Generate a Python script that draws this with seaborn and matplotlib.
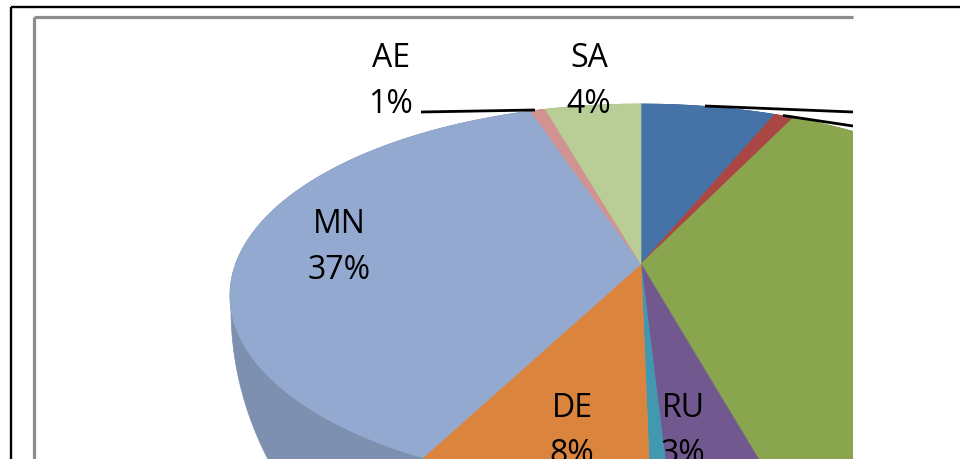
import numpy as np
import matplotlib
matplotlib.use("Agg")
import matplotlib.pyplot as plt
import seaborn as sns
from matplotlib.patches import Polygon, Rectangle
from matplotlib.colors import to_rgb

# ---------------- data (clockwise from 12 o'clock) ----------------
categories = ["(hidden 1)", "(hidden 2)", "(hidden 3)", "RU", "(hidden 4)", "DE", "MN", "AE", "SA"]
shares = [6.2, 0.9, 38.6, 3.4, 0.6, 7.9, 37.3, 0.7, 4.4]
colors = ["#4572A7", "#AA4643", "#89A54E", "#71588F", "#4198AF",
          "#DB843D", "#93A9CF", "#D19392", "#B9CD96"]
shown_labels = ["AE", "SA", "MN", "DE", "RU"]

# ---------------- layout / style ----------------
sns.set_theme(style="white")
plt.rcParams["font.family"] = ["Open Sans", "DejaVu Sans"]

W, H = 960, 460
fig = plt.figure(figsize=(W / 100, H / 100), dpi=100)
ax = fig.add_axes([0, 0, 1, 1])

wedges, _ = ax.pie(shares, colors=sns.color_palette(colors), startangle=90,
                   counterclock=False, radius=1.0, center=(0, 0), frame=True)

ax.set_aspect("auto")
ax.set_xlim(0, W)
ax.set_ylim(H, 0)
ax.axis("off")

# perspective projection of the unit pie onto the canvas (top face)
CX, CY, RX, RY, K = 641.0, 265.0, 405.4, 186.3, 0.1645
# bottom rim of the 3-D pie (seen through the side)
RXB, BY, RYF, RYB = 410.0, 310.0, 362.0, 150.0


def top_proj(X, Y):
    s = 1.0 / (1.0 + K * Y)
    return CX + RX * X * s, CY - RY * Y * s


def bottom_proj(X, Y):
    ry = np.where(Y < 0, RYF, RYB)
    return CX + RXB * X, BY - ry * Y


clip = Rectangle((35, 19), 853 - 35, H + 20, transform=ax.transData)


def darker(c, f=0.85):
    r, g, b = to_rgb(c)
    return (r * f, g * f, b * f)


for w in wedges:
    t = np.radians(np.linspace(w.theta1, w.theta2, 240))
    X, Y = np.cos(t), np.sin(t)
    fc = w.get_facecolor()
    # side wall
    tx, ty = top_proj(X, Y)
    bx, by = bottom_proj(X, Y)
    side = Polygon(np.column_stack([np.r_[tx, bx[::-1]], np.r_[ty, by[::-1]]]),
                   closed=True, facecolor=darker(fc), edgecolor=darker(fc),
                   lw=0.5, zorder=2)
    ax.add_patch(side)
    side.set_clip_path(clip)
    # top face
    px, py = top_proj(np.r_[0.0, X], np.r_[0.0, Y])
    top = Polygon(np.column_stack([px, py]), closed=True, facecolor=fc,
                  edgecolor=fc, lw=0.5, zorder=3)
    ax.add_patch(top)
    top.set_clip_path(clip)
    w.set_visible(False)

# ---------------- data labels ----------------
label_pos = {"AE": (391, 67), "SA": (589, 67), "MN": (339, 233),
             "DE": (572, 417), "RU": (683, 417)}
total = sum(shares)
for name in shown_labels:
    v = shares[categories.index(name)]
    x, y = label_pos[name]
    ax.text(x, y, name, ha="center", va="baseline", fontsize=23,
            color="black", zorder=5)
    ax.text(x, y + 46, f"{round(v / total * 100)}%", ha="center",
            va="baseline", fontsize=23, color="black", zorder=5)

# leader lines
leaders = [([421, 535], [113, 111]), ([705, 853], [107, 113]),
           ([783, 853], [116.5, 127])]
for lx, ly in leaders:
    ln, = ax.plot(lx, ly, color="black", lw=2.0, solid_capstyle="butt",
                  zorder=6)
    ln.set_clip_path(clip)

# plot-area border (grey) and chart border (black)
ax.plot([34, 34], [18, H + 5], color="#8c8c8c", lw=2.3, zorder=7,
        solid_capstyle="butt")
ax.plot([34, 853], [18, 18], color="#8c8c8c", lw=2.3, zorder=7,
        solid_capstyle="butt")
ax.plot([10.5, 10.5], [7.5, H + 5], color="black", lw=1.7, zorder=8,
        solid_capstyle="butt")
ax.plot([10.5, W + 5], [7.5, 7.5], color="black", lw=1.7, zorder=8,
        solid_capstyle="butt")

fig.savefig("out.png", dpi=100, facecolor="white")
